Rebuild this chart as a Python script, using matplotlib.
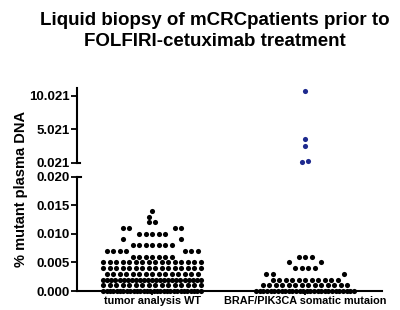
import numpy as np
import matplotlib
matplotlib.use('Agg')
import matplotlib.pyplot as plt

plt.rcParams['font.family'] = ['Liberation Sans', 'DejaVu Sans']

# Datos (% mutant plasma DNA)
categories = ['tumor analysis WT', 'BRAF/PIK3CA somatic mutaion']

wt_levels = [0.000, 0.001, 0.002, 0.003, 0.004, 0.005, 0.006, 0.007,
             0.008, 0.009, 0.010, 0.011, 0.012, 0.013, 0.014]
wt_counts = [30, 16, 25, 15, 16, 16, 7, 7, 7, 2, 5, 4, 2, 1, 1]

mut_levels = [0.000, 0.001, 0.002, 0.003, 0.004, 0.005, 0.006]
mut_counts = [28, 14, 11, 3, 4, 2, 3]
mut_high = [0.05, 0.23, 2.52, 3.62, 10.78]

lo_ticks = [0.000, 0.005, 0.010, 0.015, 0.020]
hi_ticks = [0.021, 5.021, 10.021]

# huecos centrales de cada fila (solo disposicion)
wt_holes = [0, 0, 0, 0, 0, 0, 0, 8, 0, 8, 0, 6, 0, 1, 0]
mut_holes = [0, 0, 0, 10, 0, 4, 0]

W, H = 400, 310
X_PX = 153.0          # pixeles por unidad de categoria
DX = 6.5 / X_PX       # separacion entre puntos
MAX_SLOTS = 16
AX_LEFT, AX_RIGHT = 77, 382


def fig_rect(left, top, right, bottom):
    return [left / W, 1 - bottom / H, (right - left) / W, (bottom - top) / H]


def row_offsets(n, hole):
    if hole == 0:
        step = DX if n <= MAX_SLOTS else DX * (MAX_SLOTS - 1) / (n - 1)
        return (np.arange(n) - (n - 1) / 2) * step
    nl = (n + 1) // 2
    nr = n - nl
    total = nl + hole + nr
    slots = (np.arange(total) - (total - 1) / 2) * DX
    return np.concatenate([slots[:nl], slots[total - nr:]])


fig = plt.figure(figsize=(4, 3.1), dpi=100)
ax_lo = fig.add_axes(fig_rect(AX_LEFT, 176.5, AX_RIGHT, 291))
ax_hi = fig.add_axes(fig_rect(AX_LEFT, 88, AX_RIGHT, 162.5))

xlim = ((AX_LEFT - 152) / X_PX, (AX_RIGHT - 152) / X_PX)
ax_lo.set_xlim(xlim)
ax_hi.set_xlim(xlim)
ax_lo.set_ylim(0, 0.020)
ax_hi.set_ylim(0.021, 11.2)

groups = [(wt_levels, wt_counts, wt_holes), (mut_levels, mut_counts, mut_holes)]
for i, (levels, counts, holes) in enumerate(groups):
    for lev, n, hole in zip(levels, counts, holes):
        offs = row_offsets(n, hole)
        ax_lo.plot(i + offs, np.full(n, lev), 'o', color='black', ms=3.7,
                   mec='none', clip_on=False, zorder=5)

# puntos altos de la mutacion
hi_vals = np.sort(np.array(mut_high))
px_per_unit = 74.5 / (11.2 - 0.021)
hi_px = hi_vals * px_per_unit
hi_offs = np.zeros(len(hi_vals))
for j in range(1, len(hi_vals)):
    if hi_px[j] - hi_px[j - 1] < 5:
        hi_offs[j - 1] = -DX / 2
        hi_offs[j] = DX / 2
ax_hi.plot(1 + hi_offs, hi_vals, 'o', color='#1e2a8e', ms=3.7, mec='none',
           clip_on=False, zorder=5)

for ax in (ax_lo, ax_hi):
    ax.spines['top'].set_visible(False)
    ax.spines['right'].set_visible(False)
    ax.spines['left'].set_linewidth(1.5)
    ax.spines['bottom'].set_linewidth(1.5)
    ax.tick_params(axis='y', direction='out', length=4, width=1.3,
                   labelsize=9.5, pad=1)
    ax.patch.set_visible(False)

ax_hi.spines['bottom'].set_visible(False)
ax_hi.set_xticks([])

ax_lo.set_yticks(lo_ticks)
ax_lo.set_yticklabels(['%.3f' % t for t in lo_ticks], fontweight='bold')
ax_hi.set_yticks(hi_ticks)
ax_hi.set_yticklabels(['%.3f' % t for t in hi_ticks], fontweight='bold')

ax_lo.set_xticks([0, 1])
ax_lo.set_xticklabels(categories, fontweight='bold', fontsize=7.8)
ax_lo.tick_params(axis='x', direction='out', length=3, width=1.3, pad=0.5)

# marcas del corte del eje
ax_lo.plot([0, 4 / 305], [1, 1], transform=ax_lo.transAxes, color='black',
           lw=1.5, clip_on=False)
ax_hi.plot([0, 3 / 305], [0, 0], transform=ax_hi.transAxes, color='black',
           lw=1.5, clip_on=False)

fig.text(215 / W, 1 - 31 / H,
         'Liquid biopsy of mCRCpatients prior to\nFOLFIRI-cetuximab treatment',
         ha='center', va='center', fontsize=13.5, fontweight='bold',
         linespacing=1.35)
fig.text(21 / W, 1 - 189 / H, '% mutant plasma DNA', rotation=90,
         ha='center', va='center', fontsize=10.5, fontweight='bold')

fig.savefig('out.png', dpi=100)
